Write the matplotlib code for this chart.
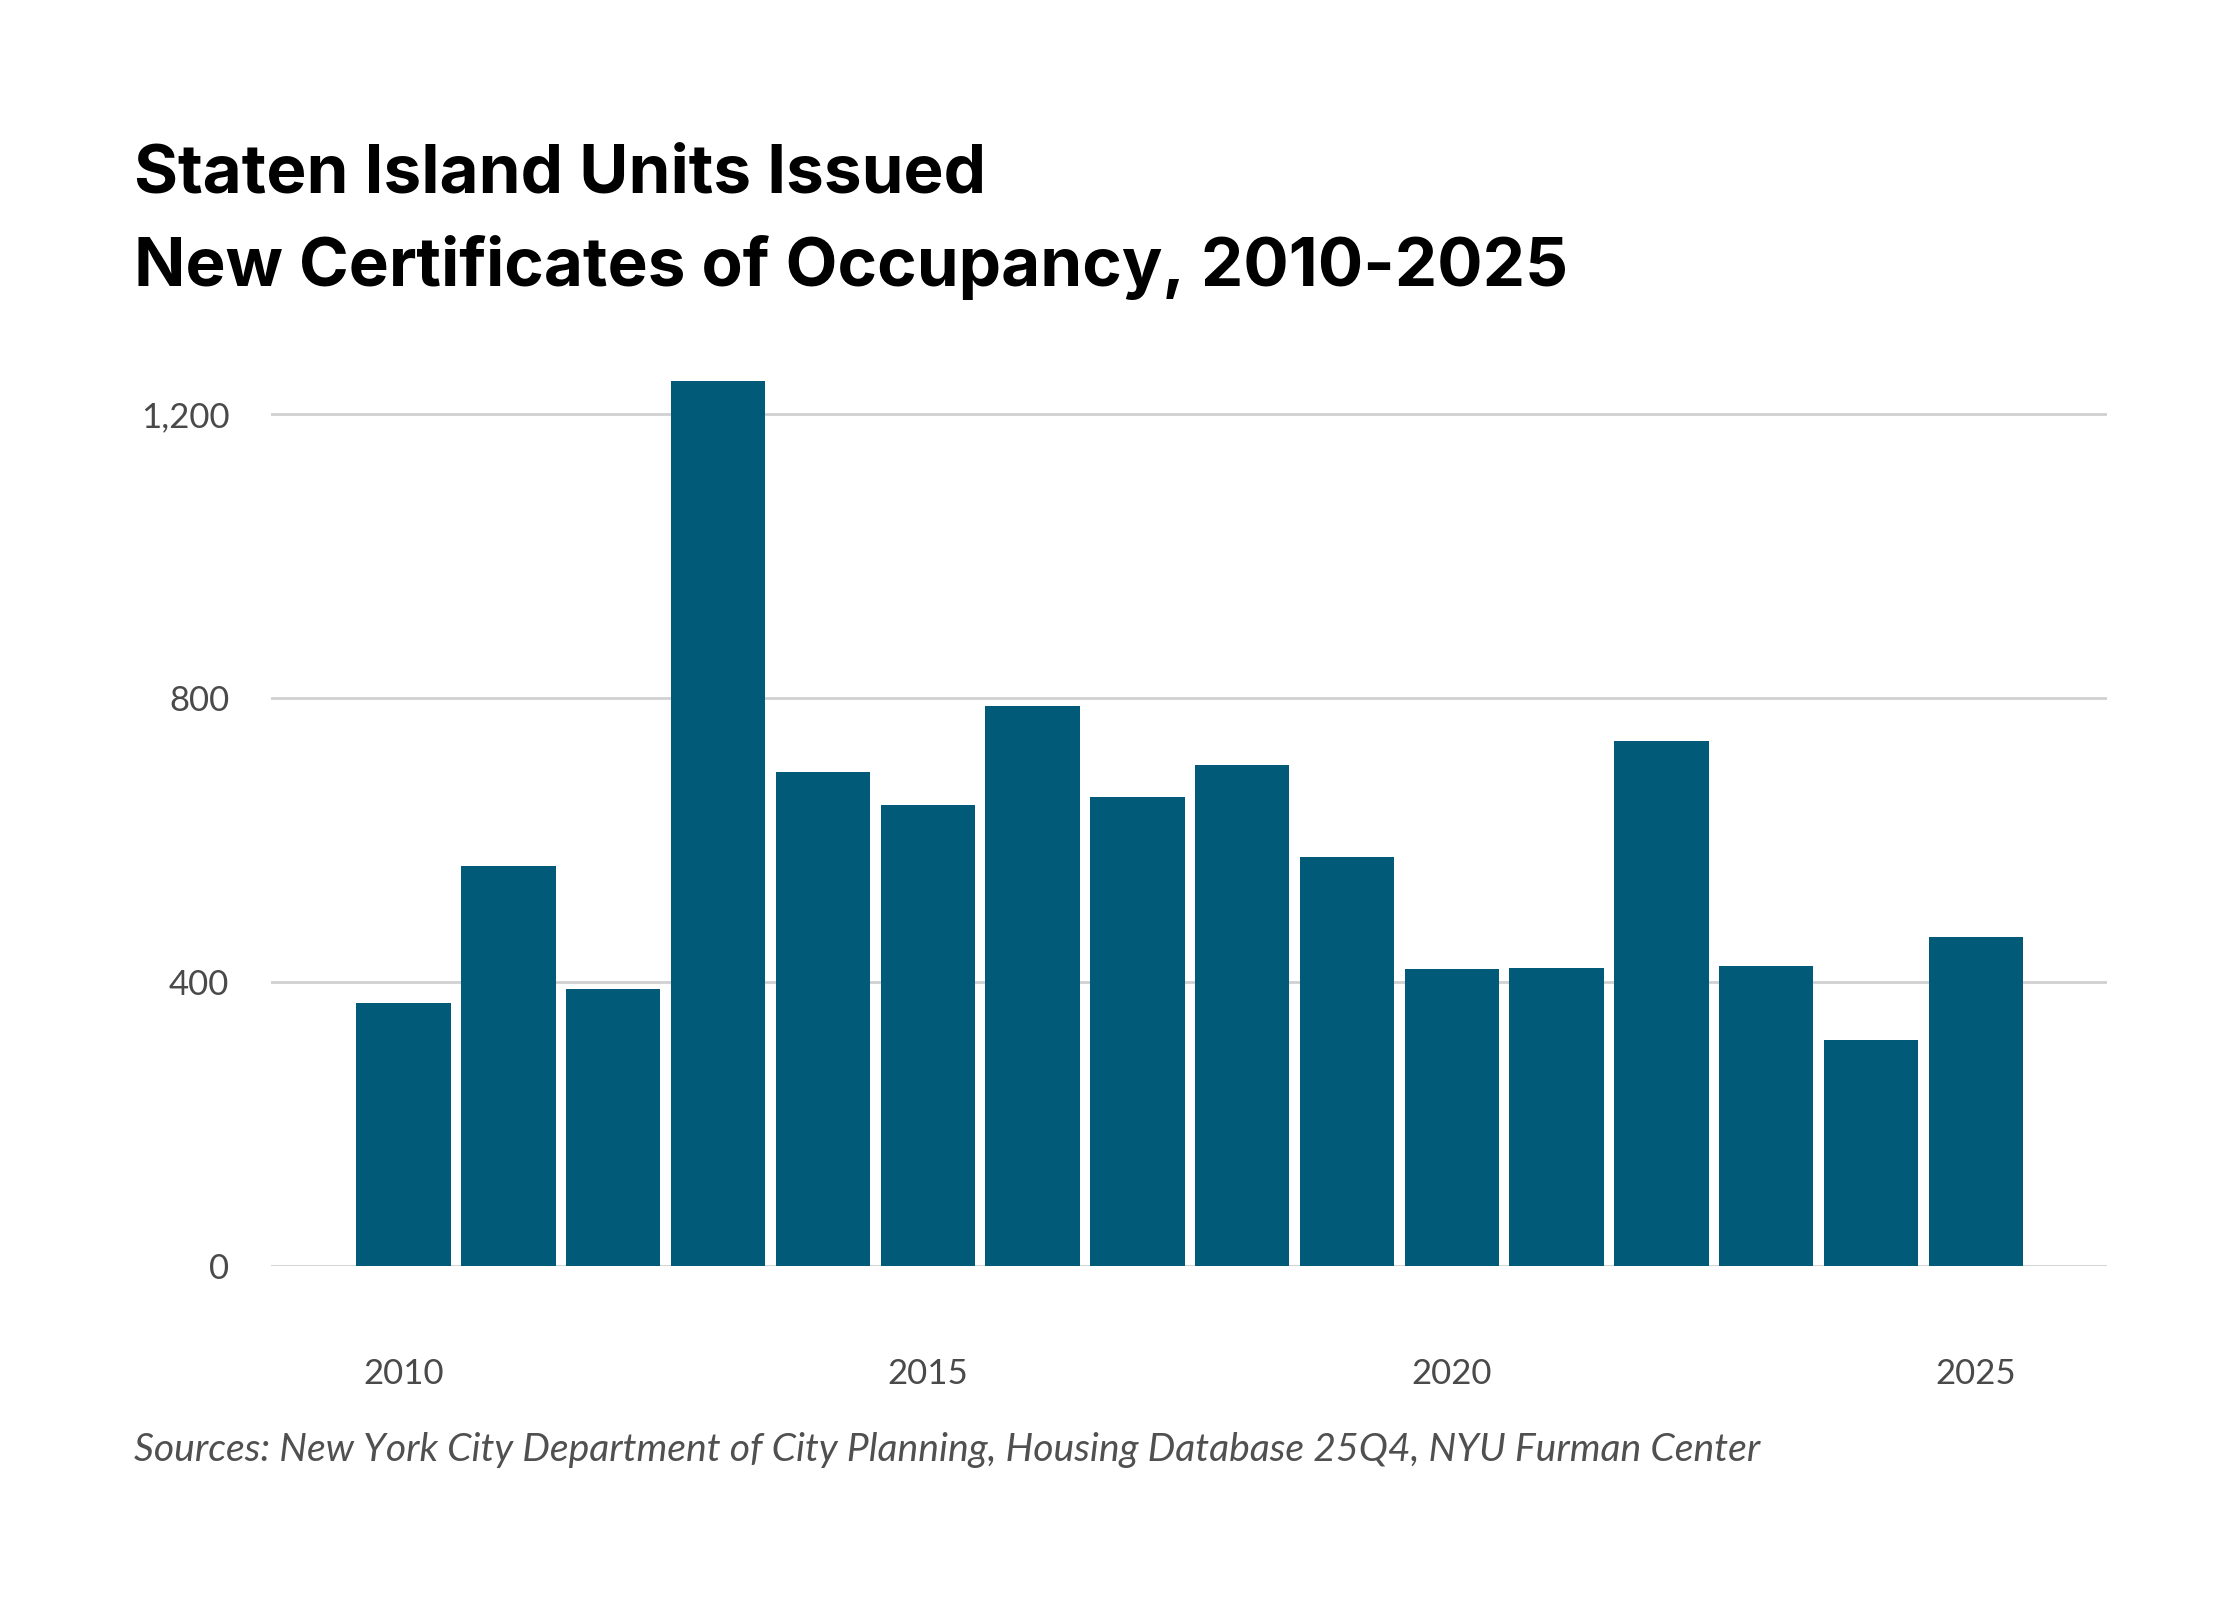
import matplotlib
matplotlib.use("Agg")
import matplotlib.pyplot as plt
from matplotlib.ticker import FuncFormatter

years = [2010, 2011, 2012, 2013, 2014, 2015, 2016, 2017, 2018, 2019,
         2020, 2021, 2022, 2023, 2024, 2025]
units = [370, 563, 390, 1246, 696, 649, 788, 660, 706, 576,
         418, 420, 740, 423, 318, 463]
y_ticks = [0, 400, 800, 1200]
x_ticks = [2010, 2015, 2020, 2025]

title = "Staten Island Units Issued\nNew Certificates of Occupancy, 2010-2025"
source = "Sources: New York City Department of City Planning, Housing Database 25Q4, NYU Furman Center"

bar_color = "#015a77"
grid_color = "#d0d0d0"
tick_color = "#4a4a4a"

fig = plt.figure(figsize=(22.4, 16), dpi=100)
ax = fig.add_axes([0.121, 0.20875, 0.8196, 0.5769])

ax.bar(years, units, width=0.9, color=bar_color, zorder=3)

ax.set_xlim(2008.735, 2026.25)
ax.set_ylim(0, 1300)
ax.set_yticks(y_ticks)
ax.set_xticks(x_ticks)
ax.yaxis.set_major_formatter(FuncFormatter(lambda v, p: f"{int(v):,}"))
ax.grid(axis="y", color=grid_color, linewidth=2, zorder=0)
ax.grid(axis="x", visible=False)
for s in ax.spines.values():
    s.set_visible(False)
ax.tick_params(axis="both", length=0, colors=tick_color, labelsize=25)
ax.tick_params(axis="y", pad=30)
ax.tick_params(axis="x", pad=66)
for lbl in ax.get_xticklabels() + ax.get_yticklabels():
    lbl.set_fontfamily("Lato")

fig.text(134 / 2240, 1 - 286 / 1600, title, ha="left", va="baseline",
         fontsize=48.5, fontweight="bold", family="Inter", color="#000000",
         linespacing=1.56)
fig.text(134 / 2240, 1 - 1450 / 1600, source, ha="left", va="center",
         fontsize=28.2, style="italic", fontweight="normal", family="Lato",
         color="#505050")

fig.savefig("out.png", dpi=100, facecolor="white")
